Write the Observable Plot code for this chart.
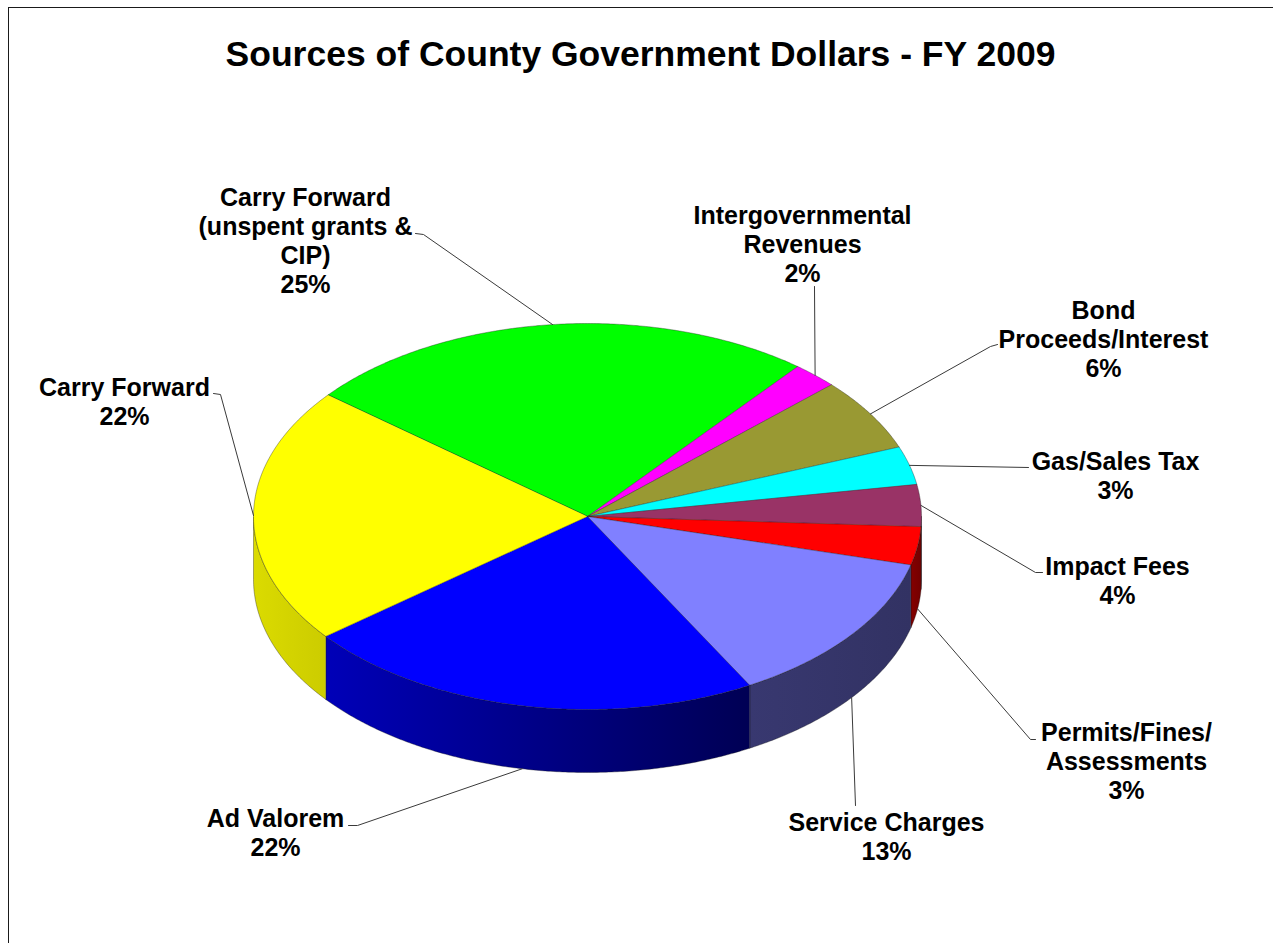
<!DOCTYPE html>
<html>
<head>
<meta charset="utf-8">
<script src="https://cdn.jsdelivr.net/npm/d3@7"></script>
<script src="https://cdn.jsdelivr.net/npm/@observablehq/plot@0.6"></script>
<style>
  html, body { margin: 0; padding: 0; background: #fff; }
  #frame { position: absolute; left: 8px; top: 7px; width: 1300px; height: 1000px; z-index: 5; pointer-events: none;
           border-left: 1px solid #1a1a1a; border-top: 1px solid #1a1a1a; }
  #title { position: absolute; left: 4px; top: 34px; width: 1273px; height: 40px; line-height: 40px;
           text-align: center; font: bold 35.5px "Liberation Sans", Arial, sans-serif; color: #000; }
  #chart { position: absolute; left: 0; top: 90px; }
</style>
</head>
<body>
<div id="title">Sources of County Government Dollars - FY 2009</div>
<div id="chart"></div>
<div id="frame"></div>
<script>
// ---- data ----
const categories = [
  "Carry Forward (unspent grants & CIP)", "Intergovernmental Revenues", "Bond Proceeds/Interest",
  "Gas/Sales Tax", "Impact Fees", "Permits/Fines/Assessments", "Service Charges", "Ad Valorem", "Carry Forward"
];
const labelLines = [
  "Carry Forward\n(unspent grants &\nCIP)", "Intergovernmental\nRevenues", "Bond\nProceeds/Interest",
  "Gas/Sales Tax", "Impact Fees", "Permits/Fines/\nAssessments", "Service Charges", "Ad Valorem", "Carry Forward"
];
const values = [25.0, 2.2, 6.1, 3.2, 3.5, 3.2, 12.9, 22.4, 21.5];
const colors = ["#00FF00", "#FF00FF", "#999933", "#00FFFF", "#993366", "#FF0000", "#8080FF", "#0000FF", "#FFFF00"];

// ---- layout (label placement, chosen by hand as in the original) ----
const labelX = [305, 802, 1103, 1115, 1117, 1126, 886, 275, 124];
const labelBaseline = [203, 221, 316, 467, 572, 738, 828, 824, 393];
const leaderStart = [
  [[415, 233], [423, 234]],
  [[814, 286]],
  [[997, 344], [990, 346]],
  [[1028, 467]],
  [[1042, 572], [1035, 572]],
  [[1035, 739], [1030, 739]],
  [[855, 805]],
  [[348, 825], [357, 825]],
  [[213, 393], [220, 394]]
];
// side shading (left, right brightness factors) for visible side faces
const sideShade = {4: [0.5, 0.5], 5: [0.52, 0.45], 6: [0.44, 0.39], 7: [0.72, 0.33], 8: [0.86, 0.80]};

// ---- geometry ----
const cx = 587, cy = 516, rx = 334, ry = 193, depth = 63, startDeg = -141;
const rad = d => d * Math.PI / 180;
const px = t => cx + rx * Math.cos(rad(t));
const py = t => cy + ry * Math.sin(rad(t));
const total = d3.sum(values);
const cum = d3.cumsum(values);
const slices = values.map((v, i) => {
  const a0 = startDeg + (cum[i] - v) / total * 360;
  const a1 = startDeg + cum[i] / total * 360;
  return {i, a0, a1};
});
function arc(a0, a1) {
  const n = Math.max(2, Math.ceil(Math.abs(a1 - a0) / 0.5));
  return d3.range(n + 1).map(k => a0 + (a1 - a0) * k / n);
}
const topRows = [];
const sideRows = [];
for (const s of slices) {
  topRows.push({id: s.i, x: cx, y: cy, fill: colors[s.i]});
  for (const t of arc(s.a0, s.a1)) topRows.push({id: s.i, x: px(t), y: py(t), fill: colors[s.i]});
  const v0 = Math.max(s.a0, 0), v1 = Math.min(s.a1, 180);
  if (v1 > v0) {
    const f = `url(#side${s.i})`;
    for (const t of arc(v0, v1)) sideRows.push({id: s.i, x: px(t), y: py(t), fill: f});
    for (const t of arc(v1, v0)) sideRows.push({id: s.i, x: px(t), y: py(t) + depth, fill: f});
  }
}
const leaderRows = [];
for (const s of slices) {
  const mid = (s.a0 + s.a1) / 2;
  const end = [px(mid), py(mid) + (Math.sin(rad(mid)) > 0 ? depth : 0)];
  for (const p of [...leaderStart[s.i], end]) leaderRows.push({id: s.i, x: p[0], y: p[1]});
}
const labelRows = slices.map(s => ({
  x: labelX[s.i],
  y: labelBaseline[s.i] - 0.71 * 25,
  text: labelLines[s.i] + "\n" + Math.round(values[s.i]) + "%"
}));

const font = "'Liberation Sans', Arial, sans-serif";
const chart = Plot.plot({
  width: 1273, height: 853, margin: 0,
  x: {domain: [0, 1273], range: [0, 1273], axis: null},
  y: {domain: [90, 943], range: [0, 853], axis: null},
  color: {type: "identity"},
  style: {background: "transparent", fontFamily: font},
  marks: [
    Plot.line(sideRows, {x: "x", y: "y", z: "id", fill: "fill", stroke: "#1a1a1a", strokeWidth: 0.6, strokeOpacity: 0.6, curve: "linear-closed"}),
    Plot.line(topRows, {x: "x", y: "y", z: "id", fill: "fill", stroke: "#1a1a1a", strokeWidth: 0.6, strokeOpacity: 0.6, curve: "linear-closed"}),
    Plot.line(leaderRows, {x: "x", y: "y", z: "id", stroke: "#3a3a3a", strokeWidth: 1}),
    Plot.text(labelRows, {x: "x", y: "y", text: "text", lineAnchor: "top", lineHeight: 1.16,
      fontSize: 25, fontWeight: "bold", fill: "#000", textAnchor: "middle", fontFamily: font})
  ]
});
// gradient definitions for the shaded side faces
const defs = d3.select(chart).insert("defs", ":first-child");
for (const s of slices) {
  const [fl, fr] = sideShade[s.i] || [0.6, 0.4];
  const c = d3.rgb(colors[s.i]);
  const sc = f => d3.rgb(c.r * f, c.g * f, c.b * f).formatHex();
  const g = defs.append("linearGradient").attr("id", `side${s.i}`).attr("x1", 0).attr("x2", 1).attr("y1", 0).attr("y2", 0);
  g.append("stop").attr("offset", 0).attr("stop-color", sc(fl));
  g.append("stop").attr("offset", 1).attr("stop-color", sc(fr));
}
document.getElementById("chart").appendChild(chart);
</script>
</body>
</html>
